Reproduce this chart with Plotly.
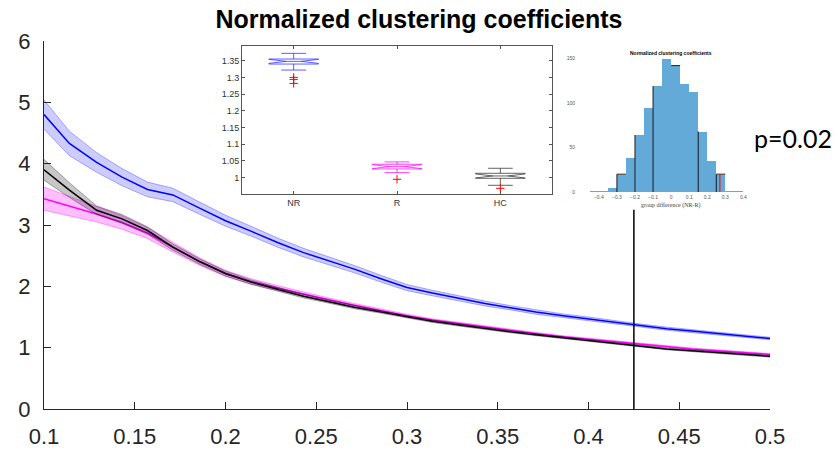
import plotly.graph_objects as go

# ---------------- main chart data ----------------
thresholds = [0.1, 0.114, 0.129, 0.143, 0.157, 0.171, 0.186, 0.2, 0.214, 0.229,
              0.243, 0.257, 0.271, 0.286, 0.3, 0.314, 0.329, 0.343, 0.357, 0.371,
              0.386, 0.4, 0.414, 0.429, 0.443, 0.457, 0.471, 0.486, 0.5]

nr_mean = [4.80, 4.33, 4.02, 3.78, 3.58, 3.49, 3.27, 3.07, 2.90, 2.71,
           2.55, 2.42, 2.28, 2.12, 1.98, 1.89, 1.80, 1.72, 1.65, 1.58,
           1.52, 1.47, 1.41, 1.36, 1.31, 1.27, 1.23, 1.19, 1.15]
nr_err = [0.24, 0.2, 0.16, 0.14, 0.12, 0.11, 0.1, 0.09, 0.08, 0.075,
          0.07, 0.065, 0.06, 0.055, 0.05, 0.045, 0.04, 0.04, 0.035, 0.035,
          0.03, 0.03, 0.03, 0.025, 0.025, 0.025, 0.02, 0.02, 0.02]

hc_mean = [3.90, 3.57, 3.24, 3.10, 2.91, 2.64, 2.40, 2.21, 2.07, 1.95,
           1.84, 1.75, 1.66, 1.58, 1.50, 1.43, 1.37, 1.31, 1.26, 1.21,
           1.16, 1.12, 1.07, 1.02, 0.98, 0.95, 0.92, 0.89, 0.86]
hc_err = [0.17, 0.12, 0.07, 0.07, 0.06, 0.05, 0.045, 0.04, 0.035, 0.03,
          0.03, 0.025, 0.025, 0.02, 0.02, 0.02, 0.02, 0.018, 0.018, 0.015,
          0.015, 0.015, 0.015, 0.015, 0.015, 0.015, 0.015, 0.015, 0.015]

r_mean = [3.43, 3.31, 3.18, 3.04, 2.87, 2.64, 2.40, 2.21, 2.08, 1.97,
          1.87, 1.78, 1.69, 1.60, 1.52, 1.45, 1.39, 1.33, 1.28, 1.23,
          1.18, 1.14, 1.10, 1.06, 1.02, 0.98, 0.95, 0.92, 0.89]
r_err = [0.19, 0.16, 0.13, 0.11, 0.09, 0.08, 0.06, 0.05, 0.045, 0.04,
         0.035, 0.03, 0.03, 0.025, 0.025, 0.02, 0.02, 0.02, 0.018, 0.018,
         0.015, 0.015, 0.015, 0.015, 0.015, 0.015, 0.015, 0.015, 0.015]

x_ticks = [0.1, 0.15, 0.2, 0.25, 0.3, 0.35, 0.4, 0.45, 0.5]
y_ticks = [0, 1, 2, 3, 4, 5, 6]

marker_x = 0.425
marker_top = 3.25
p_text = "p=0.02"
title_text = "Normalized clustering coefficients"

# ---------------- box plot inset data ----------------
groups = ["NR", "R", "HC"]
box_q1 = [1.340, 1.026, 0.998]
box_median = [1.348, 1.033, 1.005]
box_q3 = [1.355, 1.040, 1.013]
box_low = [1.322, 1.015, 0.977]
box_high = [1.372, 1.047, 1.028]
box_notch = [0.006, 0.006, 0.006]
outlier_group = ["NR", "NR", "NR", "R", "HC"]
outlier_value = [1.300, 1.294, 1.282, 0.995, 0.968]
box_ticks = [1, 1.05, 1.1, 1.15, 1.2, 1.25, 1.3, 1.35]
box_ticktext = ["1", "1.05", "1.1", "1.15", "1.2", "1.25", "1.3", "1.35"]

# ---------------- histogram inset data ----------------
bin_left = [-0.45, -0.4, -0.35, -0.3, -0.25, -0.2, -0.15, -0.1, -0.05,
            0.0, 0.05, 0.1, 0.15, 0.2, 0.25, 0.3, 0.35]
bin_width = 0.05
bin_counts = [1, 2, 5, 20, 39, 64, 95, 119, 150, 142, 122, 113, 68, 35, 20, 2, 1]
edge_bins = [3, 5, 7, 12, 14]      # bins whose left edge is outlined in black
top_bins = [3, 9, 14]              # bins whose top is outlined in black
observed_diff = 0.27
observed_height = 20
hist_xticks = [-0.4, -0.3, -0.2, -0.1, 0, 0.1, 0.2, 0.3, 0.4]
hist_yticks = [0, 50, 100, 150]

fig = go.Figure()


def band(x, m, e, line_col, fill_col, edge_col):
    up = [a + b for a, b in zip(m, e)]
    lo = [a - b for a, b in zip(m, e)]
    fig.add_trace(go.Scatter(x=x, y=up, mode="lines", line=dict(color=edge_col, width=1),
                             showlegend=False, hoverinfo="skip"))
    fig.add_trace(go.Scatter(x=x, y=lo, mode="lines", line=dict(color=edge_col, width=1),
                             fill="tonexty", fillcolor=fill_col, showlegend=False, hoverinfo="skip"))
    fig.add_trace(go.Scatter(x=x, y=m, mode="lines", line=dict(color=line_col, width=1.5),
                             showlegend=False))


band(thresholds, r_mean, r_err, "#ff00ff", "rgba(255,0,255,0.25)", "rgba(255,0,255,0.35)")
band(thresholds, hc_mean, hc_err, "#000000", "rgba(0,0,0,0.22)", "rgba(0,0,0,0.3)")
band(thresholds, nr_mean, nr_err, "#0000ff", "rgba(0,0,255,0.2)", "rgba(0,0,255,0.3)")

# vertical marker line
fig.add_trace(go.Scatter(x=[marker_x, marker_x], y=[0, marker_top], mode="lines",
                         line=dict(color="black", width=1.5), showlegend=False))

# ---------------- box plot inset ----------------
box_cols = ["rgba(40,40,255,0.75)", "rgba(255,0,255,0.75)", "rgba(60,60,60,0.8)"]
for i, g in enumerate(groups):
    fig.add_trace(go.Box(
        x=[g], q1=[box_q1[i]], median=[box_median[i]], q3=[box_q3[i]],
        lowerfence=[box_low[i]], upperfence=[box_high[i]],
        notched=True, notchspan=[box_notch[i]], notchwidth=0.35,
        boxpoints=False, width=0.48, whiskerwidth=0.5,
        line=dict(color=box_cols[i], width=1), fillcolor="rgba(255,255,255,0)",
        xaxis="x2", yaxis="y2", showlegend=False))
fig.add_trace(go.Scatter(x=outlier_group, y=outlier_value, mode="markers",
                         marker=dict(symbol="cross-thin", size=6, line=dict(color="red", width=1)),
                         xaxis="x2", yaxis="y2", showlegend=False))

# ---------------- histogram inset ----------------
centers = [b + bin_width / 2 for b in bin_left]
fig.add_trace(go.Bar(x=centers, y=bin_counts, width=bin_width,
                     marker=dict(color="#64aad8", line=dict(width=0)),
                     xaxis="x3", yaxis="y3", showlegend=False))
ox, oy = [], []
for i in edge_bins:
    ox += [bin_left[i], bin_left[i], None]
    oy += [0, bin_counts[i], None]
for i in top_bins:
    ox += [bin_left[i], bin_left[i] + bin_width, None]
    oy += [bin_counts[i], bin_counts[i], None]
fig.add_trace(go.Scatter(x=ox, y=oy, mode="lines", line=dict(color="#1a1a1a", width=1),
                         xaxis="x3", yaxis="y3", showlegend=False))
fig.add_trace(go.Scatter(x=[observed_diff, observed_diff], y=[0, observed_height], mode="lines",
                         line=dict(color="red", width=1), xaxis="x3", yaxis="y3", showlegend=False))

tick_font = dict(family="Liberation Sans, Arial, sans-serif", size=22, color="#262626")
small_font = dict(family="Liberation Sans, Arial, sans-serif", size=9, color="#333333")
tiny_font = dict(family="Liberation Sans, Arial, sans-serif", size=5, color="#555555")

fig.update_layout(
    width=838, height=452,
    margin=dict(l=44, r=68, t=41, b=43),
    paper_bgcolor="white", plot_bgcolor="rgba(0,0,0,0)",
    title=dict(text="<b>" + title_text + "</b>", x=0.5, xref="container", xanchor="center",
               y=1 - 19 / 452, yref="container", yanchor="middle",
               font=dict(family="Liberation Sans, Arial, sans-serif", size=25, color="black")),
    xaxis=dict(range=[0.1, 0.5], tickvals=x_ticks, ticktext=[str(v) for v in x_ticks],
               showgrid=False, zeroline=False, showline=True, linecolor="#262626", linewidth=1,
               ticks="inside", ticklen=7, tickcolor="#262626", tickfont=tick_font,
               ticklabelstandoff=8, automargin=False),
    yaxis=dict(range=[0, 6], tickvals=y_ticks, showgrid=False, zeroline=False, showline=True,
               linecolor="#262626", linewidth=1, ticks="inside", ticklen=7, tickcolor="#262626",
               tickfont=tick_font, ticklabelstandoff=8, automargin=False),
    xaxis2=dict(domain=[(242 - 44) / 726, (552 - 44) / 726], anchor="y2", type="category",
                range=[-0.5, 2.5], showgrid=False, zeroline=False, showline=True, mirror="ticks",
                linecolor="#555555", linewidth=1, ticks="inside", ticklen=3, tickcolor="#555555",
                tickfont=small_font, automargin=False),
    yaxis2=dict(domain=[(409 - 194) / 368, (409 - 46) / 368], anchor="x2", range=[0.951, 1.394],
                tickvals=box_ticks, ticktext=box_ticktext, showgrid=False, zeroline=False,
                showline=True, mirror="ticks", linecolor="#555555", linewidth=1, ticks="inside",
                ticklen=3, tickcolor="#555555", tickfont=small_font, automargin=False),
    xaxis3=dict(domain=[(588 - 44) / 726, (747 - 44) / 726], anchor="y3", range=[-0.46, 0.42],
                tickvals=hist_xticks, showgrid=False, zeroline=False, showline=False,
                ticks="", tickfont=tiny_font, ticklabelstandoff=1, automargin=False),
    yaxis3=dict(domain=[(409 - 192) / 368, (409 - 56.7) / 368], anchor="x3", range=[0, 152],
                tickvals=hist_yticks, showgrid=False, zeroline=False, showline=False,
                ticks="", tickfont=tiny_font, ticklabelstandoff=12, automargin=False),
    bargap=0,
    annotations=[
        dict(text=p_text, xref="paper", yref="paper", x=(752 - 44) / 726, y=(409 - 138) / 368,
             xanchor="left", yanchor="middle", showarrow=False,
             font=dict(family="Lato, sans-serif", size=25, color="black")),
        dict(text="<b>" + title_text + "</b>", xref="x3", yref="paper", x=0.0,
             y=(409 - 53) / 368, xanchor="center", yanchor="middle", showarrow=False,
             font=dict(family="Liberation Sans, Arial, sans-serif", size=5, color="black")),
        dict(text="group difference (NR-R)", xref="x3", yref="paper", x=0.0,
             y=(409 - 205) / 368, xanchor="center", yanchor="middle", showarrow=False,
             font=dict(family="Liberation Serif, serif", size=6, color="#444444")),
    ],
)

fig.write_html("out.html")
